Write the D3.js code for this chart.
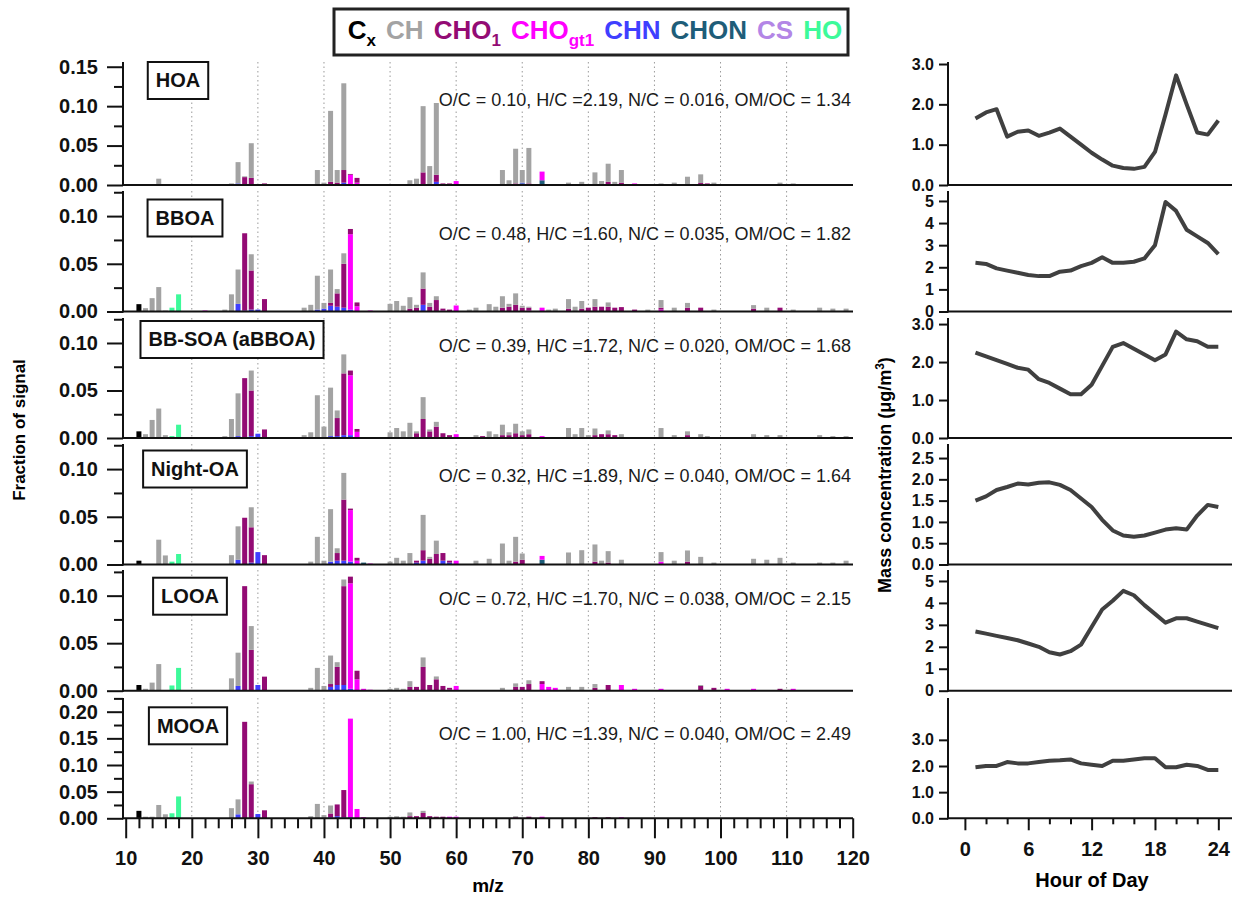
<!DOCTYPE html>
<html>
<head>
<meta charset="utf-8">
<script src="https://cdn.jsdelivr.net/npm/d3@7"></script>
<style>
  body { margin: 0; background: #fff; }
  svg { font-family: "Liberation Sans", Arial, sans-serif; }
</style>
</head>
<body>
<div id="chart"></div>
<script>
// Ion families (legend order) - bars are stacked in reverse order
var families = ["Cx", "CH", "CHO1", "CHOgt1", "CHN", "CHON", "CS", "HO"];
var familyMain = ["C", "CH", "CHO", "CHO", "CHN", "CHON", "CS", "HO"];
var familySub = ["x", "", "1", "gt1", "", "", "", ""];

var factorNames = ["HOA", "BBOA", "BB-SOA (aBBOA)", "Night-OA", "LOOA", "MOOA"];
var ratioTexts = [
  "O/C = 0.10, H/C =2.19, N/C = 0.016, OM/OC = 1.34",
  "O/C = 0.48, H/C =1.60, N/C = 0.035, OM/OC = 1.82",
  "O/C = 0.39, H/C =1.72, N/C = 0.020, OM/OC = 1.68",
  "O/C = 0.32, H/C =1.89, N/C = 0.040, OM/OC = 1.64",
  "O/C = 0.72, H/C =1.70, N/C = 0.038, OM/OC = 2.15",
  "O/C = 1.00, H/C =1.39, N/C = 0.040, OM/OC = 2.49"
];

// spectra rows: [m/z, Cx, CH, CHO1, CHOgt1, CHN, CHON, CS, HO]
var hoaSpec = [
  [15,0,0.008],[26,0,0.002],[27,0,0.027,0,0,0.002],[28,0,0.001,0.010],[29,0,0.044,0.009],
  [31,0,0,0.002],[39,0,0.019],[40,0,0.003],[41,0,0.090,0.003,0,0.001],[42,0,0.016,0.003],
  [43,0,0.110,0.016,0,0.003],[44,0,0,0.001,0.012,0.001],[45,0,0,0.006,0.003],[53,0,0.006],
  [54,0,0.008],[55,0,0.084,0.016],[56,0,0.024],[57,0,0.091,0.009,0,0.004],[58,0,0,0.002],
  [59,0,0,0.001,0.001],[60,0,0,0,0.005],[67,0,0.019],[68,0,0.006],[69,0,0.044,0.002],
  [70,0,0.016,0,0,0.001,0.002],[71,0,0.045,0.002],[73,0,0,0,0.011,0,0.006],[77,0,0.003],
  [79,0,0.004],[81,0,0.016],[82,0,0.005],[83,0,0.023,0.004],[84,0,0.004],[85,0,0.016,0.003],
  [87,0,0,0,0.002],[91,0,0.002],[93,0,0.003],[95,0,0.0105],[97,0,0.011,0.0025],[98,0,0,0.002],
  [99,0,0.003],[109,0,0.003],[111,0,0.002]
];
var bboaSpec = [
  [12,0.0077],[13,0,0.0035],[14,0,0.014],[15,0,0.0256],[16,0,0.001],[17,0,0,0,0,0,0,0,0.004],
  [18,0,0,0,0,0,0,0,0.018],[22,0,0,0,0.001],[25,0,0.002],[26,0,0.018],[27,0,0.036,0,0,0.008],
  [28,0,0,0.081,0,0.001],[29,0,0.017,0.041,0,0.002],[30,0,0,0,0,0.002],[31,0,0,0.013],
  [37,0,0.004],[38,0,0.007],[39,0,0.0355,0,0,0.002],[40,0,0.006,0,0,0.003],
  [41,0,0.035,0.003,0,0.006],[42,0,0.0045,0.014,0,0.005],[43,0,0.011,0.046,0,0.004],
  [44,0,0,0.0055,0.079,0.002],[45,0,0,0.004,0.0055],[47,0,0,0,0.001],[50,0,0.008],[51,0,0.011],
  [52,0,0.006],[53,0,0.012,0.003],[54,0,0.003,0.004],[55,0,0.017,0.017,0,0.007],[56,0,0.004,0.005],
  [57,0,0.004,0.012],[58,0,0,0.002,0.001],[59,0,0,0.002],[60,0,0,0,0.0063],[62,0,0.002],
  [63,0,0.004],[65,0,0.0077],[66,0,0.005],[67,0,0.012,0.004],[68,0,0.003,0.005],[69,0,0.012,0.007],
  [70,0,0.002,0.004],[71,0,0.001,0.003,0.001],[73,0,0,0,0.004],[74,0,0.002],[75,0,0.003],
  [77,0,0.010,0.003],[78,0,0.005],[79,0,0.008,0.003],[80,0,0,0.004],[81,0,0.008,0.005],
  [82,0,0,0.005],[83,0,0.0045,0.005],[84,0,0,0.004],[85,0,0,0.0046],[87,0,0,0.002],[89,0,0.002],
  [91,0,0.008,0.002,0.002],[93,0,0.004],[95,0,0.005,0.004],[97,0,0,0.004],[99,0,0.002],
  [105,0,0.0037,0.003],[107,0,0.004],[109,0,0,0.004],[111,0,0.002],[115,0,0.004],[117,0,0.003],
  [119,0,0.003]
];
var bbsoaSpec = [
  [12,0.007],[13,0,0.004],[14,0,0.019],[15,0,0.031],[16,0,0.003],[17,0,0,0,0,0,0,0,0.002],
  [18,0,0,0,0,0,0,0,0.014],[22,0,0,0,0.001],[25,0,0.002],[26,0,0.020],[27,0,0.045,0,0,0.002],
  [28,0,0,0.063],[29,0,0.021,0.048,0,0.002],[30,0,0,0,0,0.0045],[31,0,0,0.009],[37,0,0.003],
  [38,0,0.006],[39,0,0.045],[40,0,0.012],[41,0,0.051,0,0,0.002],[42,0,0.008,0.019,0,0.002],
  [43,0,0.020,0.065,0,0.003],[44,0,0,0.005,0.063,0.003],[45,0,0,0.003,0.0065],[50,0,0.006],
  [51,0,0.0105],[52,0,0.007],[53,0,0.016],[54,0,0.002,0.005],[55,0,0.023,0.020],[56,0,0.002,0.007],
  [57,0,0.005,0.012],[58,0,0,0.005],[59,0,0,0.003],[60,0,0,0,0.004],[63,0,0.003],[64,0,0,0.002],
  [65,0,0.007],[66,0,0.004],[67,0,0.011,0.003],[68,0,0.003,0.003],[69,0,0.010,0.005],
  [70,0,0.004,0.003],[71,0,0.005,0.004],[73,0,0,0,0.002],[77,0,0.0105],[78,0,0.004],[79,0,0.0105],
  [80,0,0.003],[81,0,0.007,0.003],[82,0,0,0.004],[83,0,0.004,0.004],[84,0,0,0.003],[85,0,0.004],
  [91,0,0.0105],[93,0,0.003],[95,0,0.004,0.003],[97,0,0.004],[98,0,0.002],[105,0,0.004],
  [107,0,0.003],[109,0,0.003],[115,0,0.003],[117,0,0.002],[119,0,0.002]
];
var nightSpec = [
  [12,0.004],[15,0,0.026],[16,0,0.0095],[17,0,0,0,0,0,0,0,0.003],[18,0,0,0,0,0,0,0,0.011],
  [26,0,0.0098],[27,0,0.035,0,0,0.005],[28,0,0,0.049],[29,0,0.021,0.037,0,0.002],[30,0,0,0,0,0.013],
  [31,0,0,0.0098],[38,0,0.003],[39,0,0.029],[40,0,0.004],[41,0,0.055,0,0,0.003],
  [42,0,0.005,0.008,0,0.004],[43,0,0.028,0.064,0,0.004],[44,0,0,0.0016,0.054,0.003],
  [45,0,0,0.003,0.004],[46,0,0,0,0,0,0.002],[47,0,0,0,0.001],[50,0,0.003],[51,0,0.007],[52,0,0.004],
  [53,0,0.012],[54,0,0,0.002,0,0.002],[55,0,0.037,0.011,0,0.004],[56,0,0.002,0.006],
  [57,0,0.014,0.011],[58,0,0,0.008,0,0.004],[59,0,0,0.002,0,0.002],[60,0,0,0,0.004],[63,0,0.004],
  [65,0,0.006],[67,0,0.022],[68,0,0.004],[69,0,0.026,0.003],[70,0,0.0065,0.005],
  [73,0,0,0,0.004,0,0.005],[77,0,0.0126],[79,0,0.015],[81,0,0.018,0.003],[82,0,0.004],
  [83,0,0.012,0.002],[85,0,0.005],[91,0,0.010,0,0.003],[93,0,0.004],[95,0,0.0117,0.003],
  [97,0,0.008],[99,0,0.002],[105,0,0.006],[107,0,0.005],[109,0,0.007],[111,0,0.002],[115,0,0.002],
  [117,0,0.002],[119,0,0.004]
];
var looaSpec = [
  [12,0.006],[13,0,0.002],[14,0,0.0085],[15,0,0.028],[17,0,0,0,0,0,0,0,0.0055],
  [18,0,0,0,0,0,0,0,0.024],[26,0,0.013],[27,0,0.035,0,0,0.005],[28,0,0,0.110],[29,0,0.025,0.043],
  [30,0,0,0,0,0.006],[31,0,0,0.0148],[38,0,0.003],[39,0,0.024],[40,0,0.005],
  [41,0,0.030,0.003,0,0.004],[42,0,0.005,0.019,0,0.006],[43,0,0.007,0.104,0,0.006],
  [44,0,0,0.007,0.111,0.002],[45,0,0,0.009,0.012],[46,0,0,0,0.002],[47,0,0,0,0.001],[50,0,0.002],
  [51,0,0.003],[52,0,0.002],[53,0,0.006,0.004],[54,0,0,0.004],[55,0,0.010,0.025],[56,0,0,0.006],
  [57,0,0.003,0.012],[58,0,0,0.005],[59,0,0,0.002,0.001],[60,0,0,0,0.005],[67,0,0.003],
  [69,0,0.0037,0.004],[70,0,0,0.004],[71,0,0.004,0.007],[73,0,0,0.003,0.007],[74,0,0,0,0.004],
  [75,0,0,0,0.003],[77,0,0.004],[79,0,0.004],[81,0,0.004,0.003],[83,0,0,0.006],[85,0,0,0,0.006],
  [87,0,0,0,0.002],[91,0,0,0,0.002],[97,0,0.001,0.005],[99,0,0,0.003],[101,0,0,0,0.002],
  [105,0,0,0,0.002],[109,0,0,0.002],[111,0,0,0,0.002]
];
var mooaSpec = [
  [12,0.014],[13,0,0.003],[14,0,0.003],[15,0,0.025],[16,0,0.0075],[17,0,0,0,0,0,0,0,0.0094],
  [18,0,0,0,0,0,0,0,0.041],[26,0,0.019],[27,0,0.028,0,0,0.0075],[28,0,0,0.181],[29,0,0.005,0.064],
  [30,0,0,0,0,0.008],[31,0,0,0.015],[38,0,0.004],[39,0,0.027],[40,0,0.006],[41,0,0.015,0.007,0,0.002],
  [42,0,0,0.022,0,0.004],[43,0,0,0.051,0,0.002],[44,0,0,0,0.185,0.002],[45,0,0,0,0.0175],
  [46,0,0,0,0.002],[50,0,0.003],[51,0,0.004],[52,0,0.003],[53,0,0.007,0.004],[54,0,0,0.004],
  [55,0,0.004,0.010],[56,0,0,0.004],[57,0,0,0.003],[58,0,0,0.003],[59,0,0,0,0.003],[60,0,0,0,0.003],
  [69,0,0.002,0.002],[71,0,0,0.003],[73,0,0,0,0.003],[81,0,0,0.002],[83,0,0,0.002],[85,0,0,0,0.002]
];
var spectra = [hoaSpec, bboaSpec, bbsoaSpec, nightSpec, looaSpec, mooaSpec];

// spectra y ticks
var specMajor = [
  [0, 0.05, 0.10, 0.15], [0, 0.05, 0.10], [0, 0.05, 0.10],
  [0, 0.05, 0.10], [0, 0.05, 0.10], [0, 0.05, 0.10, 0.15, 0.20]
];
var specMinor = [
  [0.025, 0.075, 0.125], [0.025, 0.075, 0.125], [0.025, 0.075, 0.125],
  [0.025, 0.075, 0.125], [0.025, 0.075, 0.125], [0.025, 0.075, 0.125, 0.175, 0.225]
];
var specMax = [0.156, 0.1263, 0.1263, 0.1263, 0.127, 0.2257];
var mzTicks = [10, 20, 30, 40, 50, 60, 70, 80, 90, 100, 110, 120];

// diurnal profiles (hour of day)
var hours = [1,2,3,4,5,6,7,8,9,10,11,12,13,14,15,16,17,18,19,20,21,22,23,24];
var hoaDiurnal = [1.65,1.8,1.88,1.2,1.32,1.35,1.22,1.3,1.4,1.2,1.0,0.8,0.63,0.48,0.42,0.4,0.45,0.82,1.75,2.72,2.0,1.3,1.25,1.6];
var bboaDiurnal = [2.2,2.15,1.95,1.85,1.75,1.65,1.6,1.6,1.8,1.85,2.05,2.2,2.45,2.2,2.2,2.25,2.4,3.0,4.95,4.55,3.7,3.4,3.1,2.6];
var bbsoaDiurnal = [2.25,2.15,2.05,1.95,1.85,1.8,1.55,1.45,1.3,1.15,1.15,1.4,1.9,2.4,2.5,2.35,2.2,2.05,2.2,2.8,2.6,2.55,2.4,2.4];
var nightDiurnal = [1.5,1.6,1.75,1.82,1.9,1.88,1.92,1.93,1.87,1.75,1.55,1.35,1.05,0.8,0.68,0.65,0.68,0.75,0.82,0.85,0.82,1.15,1.4,1.35];
var looaDiurnal = [2.7,2.6,2.5,2.4,2.3,2.15,2.0,1.75,1.65,1.8,2.1,2.9,3.7,4.1,4.55,4.35,3.9,3.5,3.1,3.3,3.3,3.15,3.0,2.85];
var mooaDiurnal = [1.95,2.0,2.0,2.15,2.1,2.1,2.15,2.2,2.22,2.25,2.1,2.05,2.0,2.2,2.2,2.25,2.3,2.3,1.95,1.95,2.05,2.0,1.85,1.85];
var diurnals = [hoaDiurnal, bboaDiurnal, bbsoaDiurnal, nightDiurnal, looaDiurnal, mooaDiurnal];

var diurnalTicks = [
  [0, 1, 2, 3], [0, 1, 2, 3, 4, 5], [0, 1, 2, 3],
  [0, 0.5, 1, 1.5, 2, 2.5], [0, 1, 2, 3, 4, 5], [0, 1, 2, 3]
];
var diurnalFormat = [".1f", "d", ".1f", ".1f", "d", ".1f"];
var diurnalMax = [3.05, 5.45, 3.16, 2.83, 5.5, 4.6];
var hourTicks = [0, 6, 12, 18, 24];
var hourMinor = [2, 4, 8, 10, 14, 16, 20, 22];

// colours and layout
var colors = ["#000000", "#a3a3a3", "#930b74", "#ff00ff", "#3f3fff", "#1e5d79", "#b386e6", "#3dfa9a"];
var panelZero = [185, 311.5, 438, 564.5, 690.7, 818.3];
var panelTop = [62, 191, 318, 444, 570, 698];
var labelCx = [178, 185, 232, 195, 190, 188];
var labelUp = [105, 94, 99, 96, 95, 93];
var ratioUp = [85, 78, 92, 89, 92, 85];

var svg = d3.select("#chart").append("svg")
    .attr("width", 1240)
    .attr("height", 899);

var x = d3.scaleLinear().domain([10, 120]).range([125.7, 852.7]);
var xh = d3.scaleLinear().domain([-1.6, 25.2]).range([948, 1231]);

var stackOrder = families.slice().reverse();
var stack = d3.stack().keys(stackOrder);

function styleAxis(g, size) {
  g.select(".domain").remove();
  g.selectAll(".tick line").attr("stroke", "#111").attr("stroke-width", 2);
  g.selectAll(".tick text").attr("fill", "#111")
    .style("font-size", (size || 20) + "px").style("font-weight", "bold");
}

spectra.forEach(function(rows, i) {
  var y = d3.scaleLinear().domain([0, specMax[i]]).range([panelZero[i], panelTop[i]]);
  var g = svg.append("g").attr("class", "spectrum");

  // dotted vertical grid
  g.append("g").selectAll("line")
    .data(mzTicks.slice(1, -1))
    .enter().append("line")
      .attr("x1", function(d) { return x(d); })
      .attr("x2", function(d) { return x(d); })
      .attr("y1", panelTop[i])
      .attr("y2", panelZero[i])
      .attr("stroke", "#9a9a9a")
      .attr("stroke-width", 1)
      .attr("stroke-dasharray", "1.5,3");

  // ratio text with white background
  var rt = g.append("text")
    .attr("x", 851)
    .attr("y", panelZero[i] - ratioUp[i])
    .attr("dy", "0.35em")
    .attr("text-anchor", "end")
    .attr("fill", "#1a1a1a")
    .style("font-size", "18px")
    .text(ratioTexts[i]);
  var bb = rt.node().getBBox();
  g.insert("rect", "text")
    .attr("x", bb.x - 2).attr("y", bb.y + 1)
    .attr("width", bb.width + 4).attr("height", bb.height - 2)
    .attr("fill", "#fff");

  // stacked bars
  var table = rows.map(function(r) {
    var o = { mz: r[0] };
    families.forEach(function(f, k) { o[f] = r[k + 1] || 0; });
    return o;
  });
  var series = stack(table);
  g.append("g").selectAll("g")
    .data(series)
    .enter().append("g")
      .attr("fill", function(s) { return colors[families.indexOf(s.key)]; })
    .selectAll("rect")
    .data(function(s) { return s.filter(function(d) { return d[1] > d[0]; }); })
    .enter().append("rect")
      .attr("x", function(d) { return x(d.data.mz) - 2.5; })
      .attr("width", 5)
      .attr("y", function(d) { return y(d[1]); })
      .attr("height", function(d) { return y(d[0]) - y(d[1]); });

  // baseline and y axis line
  g.append("line")
    .attr("x1", 122).attr("x2", 853)
    .attr("y1", panelZero[i]).attr("y2", panelZero[i])
    .attr("stroke", "#111").attr("stroke-width", 2);
  g.append("line")
    .attr("x1", 123).attr("x2", 123)
    .attr("y1", panelTop[i]).attr("y2", panelZero[i] + 1)
    .attr("stroke", "#111").attr("stroke-width", 2);

  g.append("g")
    .attr("transform", "translate(123,0)")
    .call(d3.axisLeft(y).tickValues(specMajor[i]).tickSize(16).tickPadding(9)
      .tickFormat(d3.format(".2f")))
    .call(styleAxis, 20);
  g.append("g")
    .attr("transform", "translate(123,0)")
    .call(d3.axisLeft(y).tickValues(specMinor[i]).tickSize(9).tickFormat(""))
    .call(styleAxis);

  // factor label box
  var lb = g.append("text")
    .attr("x", labelCx[i])
    .attr("y", panelZero[i] - labelUp[i])
    .attr("dy", "0.36em")
    .attr("text-anchor", "middle")
    .attr("fill", "#111")
    .style("font-size", "20px")
    .style("font-weight", "bold")
    .text(factorNames[i]);
  var lbb = lb.node().getBBox();
  g.insert("rect", function() { return lb.node(); })
    .attr("x", lbb.x - 8).attr("y", panelZero[i] - labelUp[i] - 18)
    .attr("width", lbb.width + 16).attr("height", 37)
    .attr("fill", "#fff")
    .attr("stroke", "#111").attr("stroke-width", 2);

  // diurnal panel
  var yh = d3.scaleLinear().domain([0, diurnalMax[i]]).range([panelZero[i], panelTop[i]]);
  var dg = svg.append("g").attr("class", "diurnal");
  dg.append("line")
    .attr("x1", 947).attr("x2", 1232)
    .attr("y1", panelZero[i]).attr("y2", panelZero[i])
    .attr("stroke", "#111").attr("stroke-width", 2);
  dg.append("line")
    .attr("x1", 948).attr("x2", 948)
    .attr("y1", panelTop[i]).attr("y2", panelZero[i] + 1)
    .attr("stroke", "#111").attr("stroke-width", 2);
  dg.append("g")
    .attr("transform", "translate(948,0)")
    .call(d3.axisLeft(yh).tickValues(diurnalTicks[i]).tickSize(9).tickPadding(5)
      .tickFormat(d3.format(diurnalFormat[i])))
    .call(styleAxis, 16);

  var line = d3.line()
    .x(function(d, k) { return xh(hours[k]); })
    .y(function(d) { return yh(d); });
  dg.append("path")
    .datum(diurnals[i])
    .attr("d", line)
    .attr("fill", "none")
    .attr("stroke", "#404040")
    .attr("stroke-width", 4)
    .attr("stroke-linejoin", "round");
});

// bottom x axes
var last = panelZero.length - 1;
svg.append("g")
  .attr("transform", "translate(0," + panelZero[last] + ")")
  .call(d3.axisBottom(x).tickValues(mzTicks).tickSize(20).tickPadding(13).tickFormat(d3.format("d")))
  .call(styleAxis, 20);
svg.append("g")
  .attr("transform", "translate(0," + panelZero[last] + ")")
  .call(d3.axisBottom(x).tickValues(d3.range(12, 120, 2).filter(function(v) { return v % 10 !== 0; }))
    .tickSize(10).tickFormat(""))
  .call(styleAxis);

svg.append("g")
  .attr("transform", "translate(0," + panelZero[last] + ")")
  .call(d3.axisBottom(xh).tickValues(hourTicks).tickSize(12).tickPadding(12).tickFormat(d3.format("d")))
  .call(styleAxis, 20);
svg.append("g")
  .attr("transform", "translate(0," + panelZero[last] + ")")
  .call(d3.axisBottom(xh).tickValues(hourMinor).tickSize(6).tickFormat(""))
  .call(styleAxis);

// axis titles
svg.append("text")
  .attr("x", 488).attr("y", 892)
  .attr("text-anchor", "middle")
  .style("font-size", "19px").style("font-weight", "bold")
  .text("m/z");
svg.append("text")
  .attr("x", 1092).attr("y", 887)
  .attr("text-anchor", "middle")
  .style("font-size", "20px").style("font-weight", "bold")
  .text("Hour of Day");
svg.append("text")
  .attr("transform", "translate(25,430) rotate(-90)")
  .attr("text-anchor", "middle")
  .style("font-size", "17px").style("font-weight", "bold")
  .text("Fraction of signal");
var mc = svg.append("text")
  .attr("transform", "translate(891,475) rotate(-90)")
  .attr("text-anchor", "middle")
  .style("font-size", "18px").style("font-weight", "bold");
mc.append("tspan").text("Mass concentration (\u03bcg/m");
mc.append("tspan").attr("dy", -7).style("font-size", "12px").text("3");
mc.append("tspan").attr("dy", 7).text(")");

// legend
var legend = svg.append("g");
legend.append("rect")
  .attr("x", 334).attr("y", 9)
  .attr("width", 514).attr("height", 46)
  .attr("fill", "#fff")
  .attr("stroke", "#222").attr("stroke-width", 3);
var lt = legend.append("text")
  .attr("x", 595).attr("y", 39)
  .attr("text-anchor", "middle")
  .style("font-size", "26px").style("font-weight", "bold");
var shift = 0;
families.forEach(function(f, i) {
  lt.append("tspan")
    .attr("fill", colors[i])
    .attr("dx", i > 0 ? 10 : 0)
    .attr("dy", -shift)
    .text(familyMain[i]);
  shift = 0;
  if (familySub[i]) {
    lt.append("tspan")
      .attr("fill", colors[i])
      .attr("dy", 7)
      .style("font-size", "17px")
      .text(familySub[i]);
    shift = 7;
  }
});
</script>
</body>
</html>
